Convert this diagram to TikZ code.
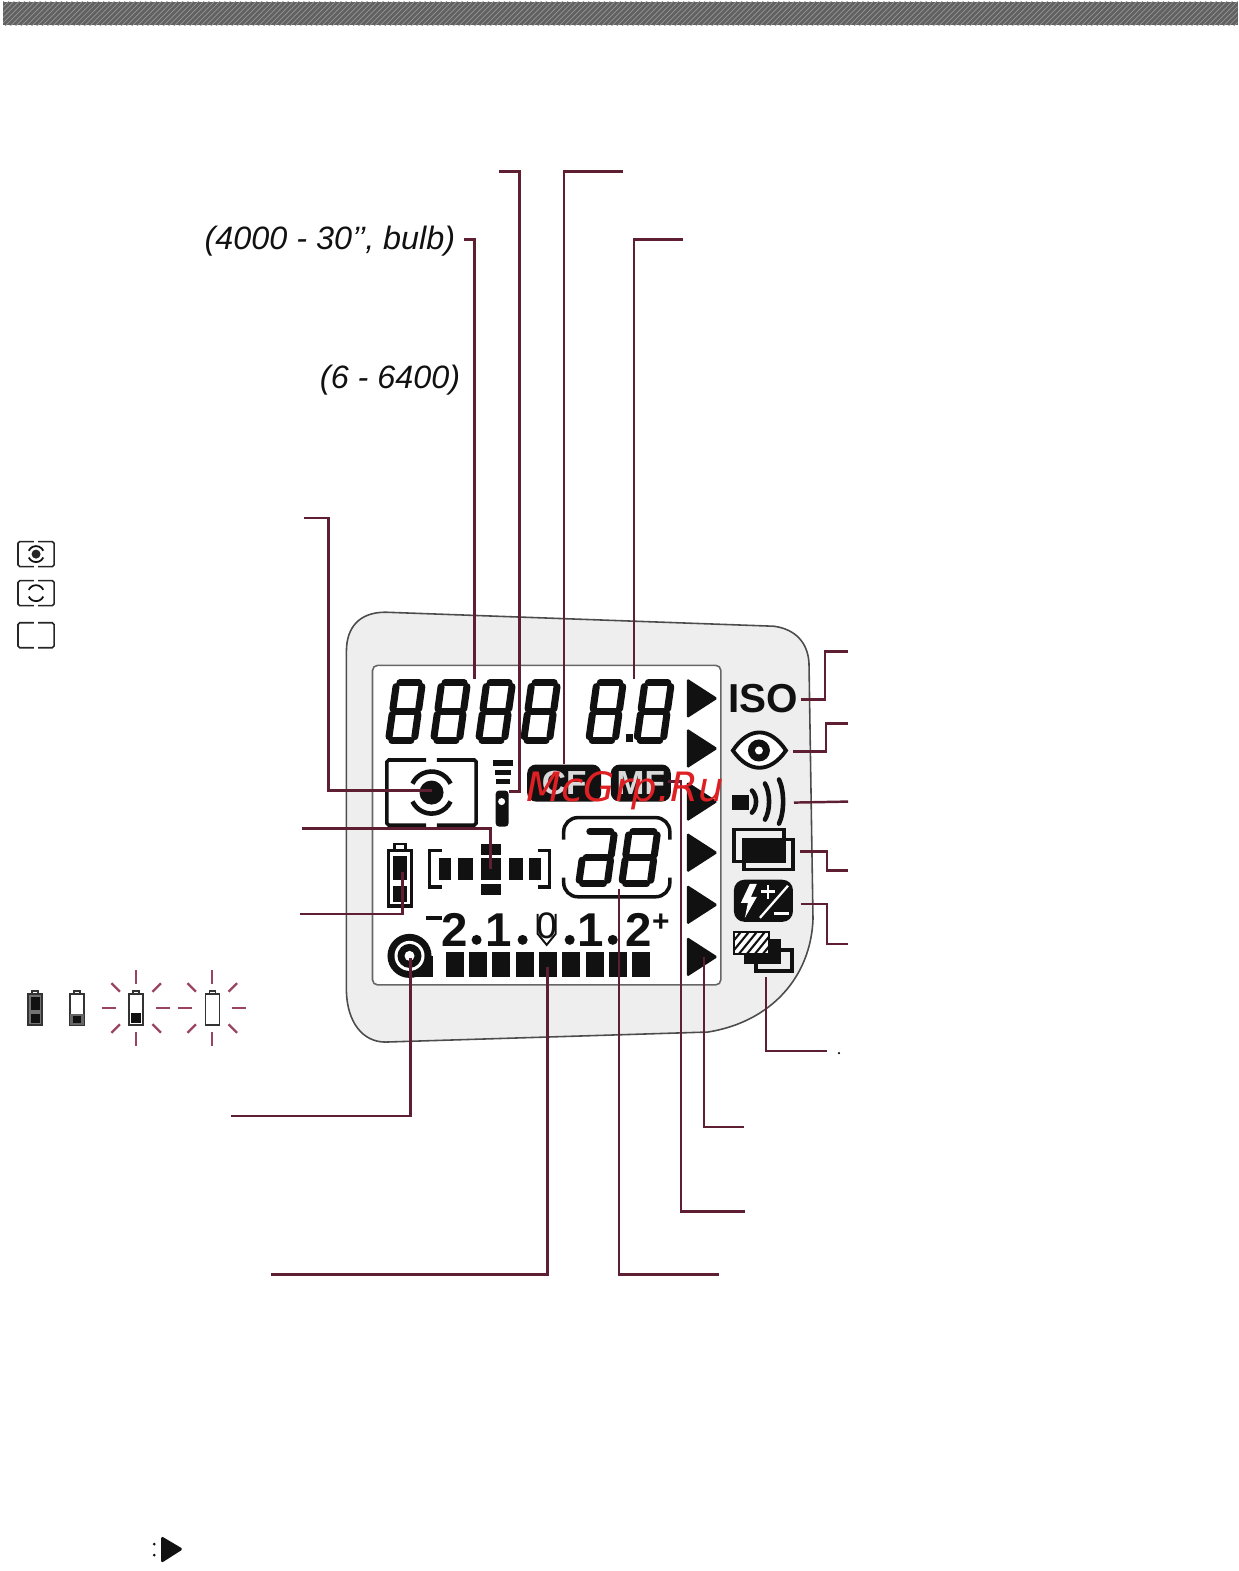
\documentclass[tikz,border=0pt]{standalone}
\usepackage{xcolor}
\usepackage{fontspec}
\setsansfont{Liberation Sans}
\newfontfamily\markfont{DejaVu Sans}
\usetikzlibrary{patterns}

\definecolor{leader}{HTML}{5E1F32}
\definecolor{panel}{HTML}{EEEEEE}
\definecolor{ink}{HTML}{111111}
\definecolor{ray}{HTML}{9A4560}

% seven segment lists: x1/y1/x2/y2
\def\segeight{4/-60/26/-60,30/-56/30/-33,30/-27/30/-4,4/0/26/0,0/-4/0/-27,0/-33/0/-56,4/-30/26/-30}
\def\segd{4/-60/26/-60,30/-56/30/-33,30/-27/30/-4,4/0/26/0,0/-4/0/-27,4/-30/26/-30}
\newcommand{\lcddigit}[5]{
    \begin{scope}[shift={(#1,#2)}, xslant=0.14, xscale=#3, yscale=#4]
        \foreach \xa/\ya/\xb/\yb in #5 {
            \draw[lcdseg] (\xa,\ya) -- (\xb,\yb);
        }
    \end{scope}
}
\newcommand{\meterbox}[5]{
    \draw[#5, rounded corners=1] (#1-0.06*#3,#2-#4/2) -- (#1-#3/2,#2-#4/2) -- (#1-#3/2,#2+#4/2) -- (#1-0.06*#3,#2+#4/2);
    \draw[#5, rounded corners=1] (#1+0.06*#3,#2-#4/2) -- (#1+#3/2,#2-#4/2) -- (#1+#3/2,#2+#4/2) -- (#1+0.06*#3,#2+#4/2);
}
\newcommand{\meterarcs}[4]{
    \draw[ink, line width=#4] (#1,#2) ++(-25:#3) arc[start angle=-25, end angle=-155, radius=#3];
    \draw[ink, line width=#4] (#1,#2) ++(25:#3) arc[start angle=25, end angle=155, radius=#3];
}
\newcommand{\battery}[2]{
    \draw[thick, black!80] (#1-7,#2-14) rectangle (#1+7,#2+17);
    \draw[thick, black!80] (#1-3,#2-14) -- (#1-3,#2-17) -- (#1+3,#2-17) -- (#1+3,#2-14);
}
\newcommand{\batteryrays}[2]{
    \foreach \ang in {0,180} {
        \draw[ray, line width=1.3pt] (#1,#2) ++(\ang:20) -- ++(\ang:14);
    }
    \foreach \ang in {90,270} {
        \draw[ray, line width=1.3pt] (#1,#2) ++(\ang:24) -- ++(\ang:14);
    }
    \foreach \ang in {45,135,225,315} {
        \draw[ray, line width=1.3pt] (#1,#2) ++(\ang:23) -- ++(\ang:12);
    }
}

\begin{document}
\begin{tikzpicture}[x=0.02002cm, y=-0.02004cm]
    \tikzstyle{lcdseg} = [ink, line width=4pt, line cap=round]
    \tikzstyle{wire} = [leader, line width=1.4pt, line join=miter]
    \tikzstyle{icon} = [ink, line width=2pt]
    \tikzstyle{thinbox} = [black!85, line width=0.9pt]
    \tikzstyle{rangetext} = [font=\fontsize{18.4}{18.4}\selectfont\sffamily\itshape, inner sep=0pt, ink]
    \tikzstyle{scalenum} = [font=\fontsize{27}{27}\selectfont\sffamily\bfseries, inner sep=0pt, ink]

    \useasboundingbox (0,0) rectangle (1236.8,1567.9);

    % top band
    \fill[black!62] (3,2) rectangle (1236,25);
    \fill[pattern=north east lines, pattern color=black!42] (3,2) rectangle (1236,25);

    % panel and screen
    \draw[black!70, fill=panel, line width=0.9pt] (346,650) .. controls (346,625) and (360,611) .. (385,611)
        -- (773,625) .. controls (795,628) and (807,642) .. (808,662)
        -- (812,917) .. controls (810,975) and (770,1020) .. (707,1030)
        -- (385,1040) .. controls (362,1040) and (347,1020) .. (346,990) -- cycle;
    \draw[black!60, fill=white, line width=0.9pt, rounded corners=3] (372,664) rectangle (720,983);

    % main digits
    \lcddigit{388}{739}{0.86}{0.96}{\segeight}
    \lcddigit{433}{739}{0.86}{0.96}{\segeight}
    \lcddigit{478}{739}{0.86}{0.96}{\segeight}
    \lcddigit{523}{739}{0.86}{0.96}{\segeight}
    \lcddigit{588}{739}{0.88}{0.96}{\segeight}
    \lcddigit{636}{739}{0.88}{0.96}{\segeight}
    \fill[ink] (625,733) rectangle (632,741);
    \coordinate (shutter) at (474,678);
    \coordinate (aperture) at (633,678);

    % triangles on the right
    \foreach \i/\y in {1/697,2/747,3/800,4/851,5/903,6/955} {
        \fill[ink, rounded corners=1] (686,\y-20) -- (717,\y) -- (686,\y+20) -- cycle;
        \coordinate (tri\i) at (703,\y);
    }

    % metering mark on the screen
    \meterbox{431}{791}{89}{65}{icon}
    \fill[ink] (431,791) circle[radius=12];
    \meterarcs{431}{791}{21}{2.6pt}
    \coordinate (meter) at (431,789);

    % flash bars
    \fill[ink] (492,758) rectangle (512,764);
    \fill[ink] (494,768) rectangle (510,773);
    \fill[ink] (495,777) rectangle (509,782);
    \fill[ink, rounded corners=2] (495,789) rectangle (508,825);
    \fill[white] (501,800) circle[radius=3.5];
    \coordinate (flashbar) at (508,790);

    % mode boxes
    \node[fill=ink, rounded corners=5, minimum width=74*0.02cm, minimum height=37*0.02cm, inner sep=0pt, text=white!85!black, font=\fontsize{19}{19}\selectfont\sffamily\bfseries] (cfbox) at (563.5,781.5) {CF};
    \node[fill=ink, rounded corners=5, minimum width=60*0.02cm, minimum height=37*0.02cm, inner sep=0pt, text=white!85!black, font=\fontsize{19}{19}\selectfont\sffamily\bfseries] (mfbox) at (640,781.5) {MF};
    \coordinate (mfend) at (667,780);

    % focus points
    \draw[icon] (441,849) -- (429,849) -- (429,885) -- (441,885);
    \draw[icon] (537,849) -- (549,849) -- (549,885) -- (537,885);
    \foreach \xa/\xb in {438/450,457/472,480/500,508/522,528/540} {
        \fill[ink] (\xa,856) rectangle (\xb,878);
    }
    \fill[ink] (480,842) rectangle (500,853);
    \fill[ink] (480,882) rectangle (500,893);
    \coordinate (focus) at (490,867);

    % battery on the screen
    \draw[icon] (388,849) rectangle (411,904);
    \draw[ink, line width=1.3pt] (394,849) -- (394,842) -- (405,842) -- (405,849);
    \fill[ink] (393,854) rectangle (406,878);
    \fill[ink] (393,884) rectangle (406,900);
    \coordinate (cell) at (402,870);

    % small digits and frame
    \lcddigit{578}{882}{0.95}{0.87}{\segd}
    \lcddigit{621}{882}{0.95}{0.87}{\segeight}
    \draw[icon, rounded corners=8] (563,838) -- (563,816) -- (669,816) -- (669,838);
    \draw[icon, rounded corners=8] (563,876) -- (563,895) -- (669,895) -- (669,876);
    \coordinate (bursts) at (618,887);

    % exposure scale
    \fill[ink] (425,914) rectangle (441,918);
    \foreach \x/\t [count=\n] in {454/2,498/1,590/1,638/2} {
        \node[scalenum] (num\n) at (\x,928) {\t};
    }
    \node[font=\fontsize{21}{21}\selectfont\sffamily, inner sep=0pt, ink] (num0) at (546,924) {0};
    \draw[ink, line width=1.1pt] (537,912) -- (537,932) -- (546,943) -- (555,932) -- (555,912);
    \foreach \x in {476,522,569,612} {
        \fill[ink] (\x,938) circle[radius=5];
    }
    \node[font=\fontsize{17}{17}\selectfont\sffamily\bfseries, inner sep=0pt, ink] (plus) at (660,921) {+};
    \foreach \i in {0,...,8} {
        \fill[ink] ({445+23.3*\i},950) rectangle ++(18,25);
    }
    \coordinate (bar) at (547,965);

    % drive mark low left
    \fill[ink] (409,954) circle[radius=22];
    \fill[ink] (409,954) rectangle (432,975);
    \fill[white] (409,954) circle[radius=15];
    \fill[ink] (409,954) circle[radius=12];
    \fill[white] (409,954) circle[radius=5];
    \coordinate (drive) at (410,956);

    % right side icons
    \node[font=\fontsize{23}{23}\selectfont\sffamily\bfseries, inner sep=0pt, ink] (iso) at (762,697) {ISO};

    \draw[ink, line width=2.2pt, fill=white] (732,749) .. controls (748,725) and (769,725) .. (785,749) .. controls (769,772) and (748,772) .. (732,749) -- cycle;
    \fill[ink] (758,749) circle[radius=11];
    \fill[white] (758,749) circle[radius=4];
    \coordinate (eye) at (792,750);

    \fill[ink] (731,793) rectangle (748,808);
    \foreach \x/\h in {755/11,768/18,782/22} {
        \draw[ink, line width=2.6pt, line cap=round] ({\x-4},{800-\h}) .. controls ({\x+1.5},{800-\h/2}) and ({\x+1.5},{800+\h/2}) .. ({\x-4},{800+\h});
    }
    \coordinate (beep) at (793,801);

    \draw[icon] (733,828) rectangle (783,860);
    \draw[icon] (743,838) rectangle (792,868);
    \fill[ink] (743,838) rectangle (783,860);
    \coordinate (drivecont) at (799,850);

    \fill[ink, rounded corners=6] (733,878) rectangle (792,920);
    \fill[white] (749,882) -- (740,901) -- (747,901) -- (744,916) -- (756,895) -- (750,895) -- (756,882) -- cycle;
    \draw[white, line width=1.6pt] (767,883) -- (767,897) (760,890) -- (774,890);
    \draw[white, line width=1.3pt] (759,916) -- (787,884);
    \draw[white, line width=1.6pt] (773,912) -- (788,912);
    \coordinate (comp) at (800,902);

    \draw[icon] (755,948) rectangle (791,969);
    \fill[ink] (743,937) rectangle (780,962);
    \fill[white] (733,930) rectangle (768,952);
    \begin{scope}
        \clip (733,930) rectangle (768,952);
        \foreach \x in {722,730,...,770} {
            \draw[ink, line width=1.2pt] (\x,952) -- (\x+18,930);
        }
    \end{scope}
    \draw[ink, line width=1.5pt] (733,930) rectangle (768,952);
    \coordinate (bracket) at (765,975);

    % leaders with free ends
    \coordinate (endshutter) at (463,239);
    \coordinate (endflash) at (498,171);
    \coordinate (endcf) at (622,171);
    \coordinate (endaperture) at (682,239);
    \coordinate (endmeter) at (304,517);
    \coordinate (endfocus) at (302,827);
    \coordinate (endcell) at (300,912);
    \coordinate (enddrive) at (231,1114);
    \coordinate (endbar) at (271,1272);
    \coordinate (endbursts) at (718,1272);
    \coordinate (endmf) at (744,1209);
    \coordinate (endtri) at (743,1125);
    \coordinate (endbracket) at (826,1049);
    \coordinate (endiso) at (847,650);
    \coordinate (endeye) at (847,722);
    \coordinate (endbeep) at (847,800);
    \coordinate (endcont) at (847,869);
    \coordinate (endcomp) at (847,942);

    \draw[wire] (endshutter) -| (shutter);
    \draw[wire] (endflash) -- (519,171) -- (519,790) -- (flashbar);
    \draw[wire] (endcf) -| (cfbox.north);
    \draw[wire] (endaperture) -| (aperture);
    \draw[wire] (endmeter) -- (328,517) |- (meter);
    \draw[wire] (endfocus) -| (focus);
    \draw[wire] (endcell) -| (cell);
    \draw[wire] (enddrive) -| (drive);
    \draw[wire] (endbar) -| (bar);
    \draw[wire] (endbursts) -| (bursts);
    \draw[wire] (endmf) -- (680,1209) -- (680,780) -- (mfend);
    \draw[wire] (endtri) -| (tri6);
    \draw[wire] (endbracket) -| (bracket);
    \draw[wire] (iso.east) ++(3,1) -- (824,698) -- (824,650) -- (endiso);
    \draw[wire] (eye) -- (825,750) -- (825,722) -- (endeye);
    \draw[wire] (beep) -- (endbeep);
    \draw[wire] (drivecont) -- (826,850) -- (826,869) -- (endcont);
    \draw[wire] (comp) -- (826,902) -- (826,942) -- (endcomp);
    \fill[ink] (838,1051) circle[radius=1.2];

    % ranges
    \node[rangetext, anchor=east] (speedrange) at (455,241) {(4000 - 30\symbol{39}\symbol{39}, bulb)};
    \node[rangetext, anchor=east] (isorange) at (460,379) {(6 - 6400)};

    % metering modes
    \meterbox{36}{553}{36}{25}{thinbox}
    \fill[black!85] (36,553) circle[radius=4.5];
    \meterarcs{36}{553}{8}{1pt}
    \meterbox{36}{592}{36}{25}{thinbox}
    \meterarcs{36}{592}{8}{1pt}
    \meterbox{36}{634}{36}{25}{thinbox}

    % battery states
    \fill[black!55] (28,992) rectangle (42,1023);
    \battery{35}{1006}
    \fill[ink] (31,995) rectangle (40,1008);
    \fill[ink] (31,1012) rectangle (40,1021);
    \battery{77}{1006}
    \fill[black!60] (70,1012) rectangle (84,1023);
    \fill[ink] (73,1014) rectangle (81,1021);
    \battery{136}{1006}
    \fill[ink] (131,1011) rectangle (141,1021);
    \batteryrays{136}{1006}
    \battery{212}{1006}
    \batteryrays{212}{1006}

    % bottom mark
    \fill[ink, rounded corners=1] (161,1533) -- (183,1546) -- (161,1560) -- cycle;
    \fill[ink] (154,1541) circle[radius=1.5];
    \fill[ink] (154,1552) circle[radius=1.5];

    % watermark
    \node[font=\fontsize{23}{23}\selectfont\markfont\itshape, text={rgb,255:red,222;green,32;blue,36}, inner sep=0pt] (watermark) at (624.5,789) {McGrp.Ru};
\end{tikzpicture}
\end{document}
